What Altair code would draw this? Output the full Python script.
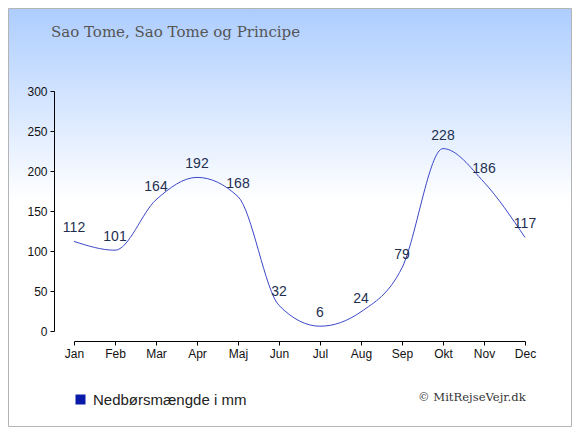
import altair as alt
import pandas as pd

months = ["Jan", "Feb", "Mar", "Apr", "Maj", "Jun", "Jul", "Aug", "Sep", "Okt", "Nov", "Dec"]
rain = [112, 101, 164, 192, 168, 32, 6, 24, 79, 228, 186, 117]
y_ticks = [0, 50, 100, 150, 200, 250, 300]
series_name = "Nedbørsmængde i mm"
title_text = "Sao Tome, Sao Tome og Principe"
credit_text = "© MitRejseVejr.dk"

df = pd.DataFrame({"month": months, "rain": rain, "serie": [series_name] * len(months)})

W, H = 451, 240
PL, PT, PR, PB = 66, 83, 47, 96

bg = alt.Chart(pd.DataFrame({"k": [0]})).mark_rect(
    color=alt.LinearGradient(
        gradient="linear",
        stops=[
            alt.GradientStop(color="#adcdff", offset=0),
            alt.GradientStop(color="#ffffff", offset=0.46),
            alt.GradientStop(color="#ffffff", offset=1),
        ],
        x1=0, x2=0, y1=0, y2=1,
    ),
    stroke="#b4b4b4",
    strokeWidth=1,
).encode(
    x=alt.value(-PL + 0.5), x2=alt.value(W + PR - 0.5),
    y=alt.value(-PT + 0.5), y2=alt.value(H + PB - 0.5),
)

xenc = alt.X(
    "month:N", sort=months,
    scale=alt.Scale(type="point", padding=0),
    axis=alt.Axis(
        title=None, offset=10, tickSize=4, labelAngle=0, labelPadding=3,
        labelFont="Liberation Sans", labelFontSize=12, labelColor="#111",
        domainColor="#000", tickColor="#000", grid=False, zindex=1,
    ),
)
yenc = alt.Y(
    "rain:Q",
    scale=alt.Scale(domain=[0, 300], nice=False, zero=True),
    axis=alt.Axis(
        title=None, values=y_ticks, offset=20, tickSize=4, labelPadding=3,
        labelFont="Liberation Sans", labelFontSize=12, labelColor="#111",
        domainColor="#000", tickColor="#000", grid=False, zindex=1,
    ),
)

base = alt.Chart(df)

line = base.mark_line(interpolate="monotone", strokeWidth=1).encode(
    x=xenc, y=yenc,
    color=alt.Color(
        "serie:N",
        scale=alt.Scale(range=["#3a48c8"]),
        legend=alt.Legend(
            title=None, orient="none", legendX=-1, legendY=301, padding=0,
            symbolType="square", symbolSize=100,
            symbolFillColor="#0a1aa8", symbolStrokeWidth=0,
            labelFont="Liberation Sans", labelFontSize=15, labelColor="#222",
            labelOffset=5, zindex=1,
        ),
    ),
)

labels = base.mark_text(
    baseline="alphabetic", dy=-9, font="Liberation Sans", fontSize=14, color="#1e2f52"
).encode(x=xenc, y=yenc, text="rain:Q")

title = alt.Chart(pd.DataFrame({"t": [title_text]})).mark_text(
    align="left", baseline="alphabetic", font="DejaVu Serif", fontSize=15, color="#555555"
).encode(x=alt.value(-23), y=alt.value(-53.7), text="t:N")

credit = alt.Chart(pd.DataFrame({"t": [credit_text]})).mark_text(
    align="left", baseline="alphabetic", font="DejaVu Serif", fontSize=11.6, color="#333333"
).encode(x=alt.value(344), y=alt.value(309.7), text="t:N")

chart = alt.layer(bg, line, labels, title, credit).properties(
    width=W, height=H,
    autosize=alt.AutoSizeParams(type="none"),
    padding={"left": PL, "top": PT, "right": PR, "bottom": PB},
).configure_view(stroke=None)

chart.save("out.html", embed_options={"renderer": "svg", "actions": False})
